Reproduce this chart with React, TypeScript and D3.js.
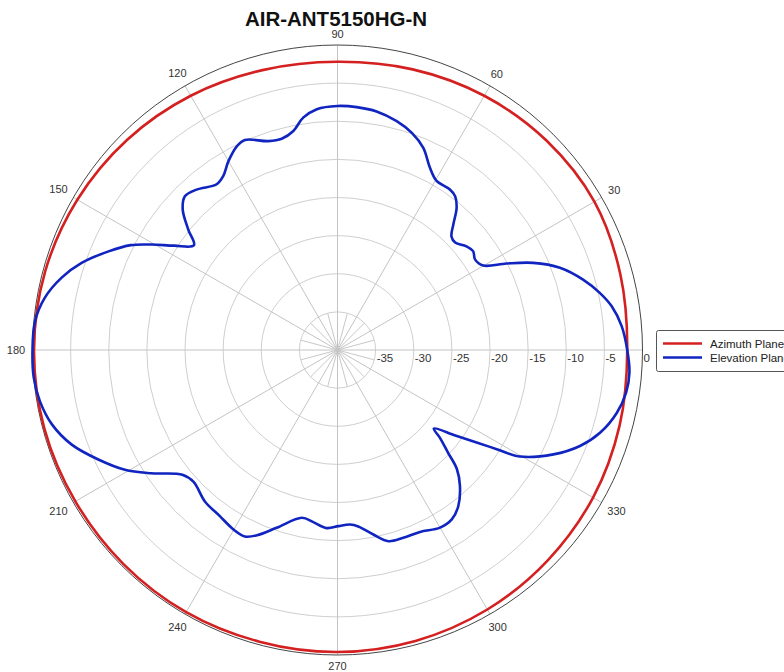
import React from 'react';
import * as d3 from 'd3';

const chartTitle = 'AIR-ANT5150HG-N';
const ringValues = [-35, -30, -25, -20, -15, -10, -5, 0];
const angleLabels = [30, 60, 90, 120, 150, 180, 210, 240, 270, 300, 330];
const seriesNames = ['Azimuth Plane', 'Elevation Plane'];

const azimuthAngles = [0, 15, 30, 45, 60, 75, 90, 105, 120, 135, 150, 165, 180, 195, 210, 225, 240, 255, 270, 285, 300, 315, 330, 345];
const azimuthDb = [-2.0, -1.6, -1.1, -1.2, -1.5, -1.9, -2.2, -2.0, -1.5, -1.0, -0.6, -0.3, -0.2, -0.2, -0.3, -0.3, -0.3, -0.4, -0.4, -0.5, -0.7, -1.0, -1.3, -1.7];

const elevationAngles = [
  0, 4.8, 9.1, 12.3, 16.0, 20.3, 24.0, 27.1, 30.1, 33.4, 36.0, 38.8, 42.4, 44.9, 47.3, 50.0, 52.6, 55.0, 59.6, 63.1,
  67.0, 71.1, 75.5, 80.7, 85.5, 90, 94.9, 98.4, 101.4, 104.8, 108.3, 113.8, 116.3, 120.0, 123.3, 126.1, 131.3, 134.8,
  137.8, 141.1, 143.9, 147.4, 150.4, 153.1, 156.7, 161.2, 165.3, 169.9, 174.6, 180, 185.2, 189.8, 194.6, 199.6, 204.6,
  209.4, 213.5, 218.8, 222.5, 228.8, 234.7, 239.9, 243.6, 246.5, 251.1, 258.0, 262.0, 266.5, 270.3, 274.1, 276.7,
  281.0, 284.9, 289.3, 294.4, 300.0, 304.0, 307.7, 312.0, 315.1, 317.1, 319.4, 320.8, 324.0, 326.4, 328.2, 329.7,
  334.2, 338.4, 342.5, 347.3, 351.6, 355.6
];
const elevationDb = [
  -2.0, -2.6, -3.6, -4.8, -6.5, -8.9, -11.9, -15.1, -17.9, -18.4, -18.0, -18.3, -19.1, -18.9, -17.6, -15.7, -14.6, -14.3, -14.3, -13.2,
  -11.2, -9.9, -9.0, -8.3, -8.05, -8.0, -8.3, -9.2, -10.7, -11.35, -11.15, -9.9, -10.2, -11.4, -12.7, -13.1, -12.0, -11.6,
  -12.6, -14.85, -16.7, -14.6, -12.0, -9.6, -7.3, -4.55, -2.6, -1.0, -0.15, 0, 0, -0.4, -1.3, -3.0, -5.5,
  -8.0, -10.7, -13.9, -14.4, -13.6, -13.3, -12.8, -12.7, -13.5, -15.35, -17.5, -17.2, -16.6, -16.9, -17.05, -16.7,
  -15.35, -14.05, -13.9, -13.8, -13.1, -13.2, -14.1, -16.0, -17.9, -20.2, -22.3, -23.7, -20.9, -18.1, -15.2, -12.3,
  -8.55, -5.8, -3.9, -2.46, -1.74, -1.6
];

const FONT = "Arial, 'Liberation Sans', sans-serif";

export default function App() {
  const W = 784, H = 672;
  const cx = 337.5, cy = 350, R = 305;
  const r = d3.scaleLinear().domain([-40, 0]).range([0, R]);
  const rad = (a: number) => (a * Math.PI) / 180;
  const pt = (a: number, db: number): [number, number] => [
    cx + r(db) * Math.cos(rad(a)),
    cy - r(db) * Math.sin(rad(a)),
  ];
  const line = d3.line<[number, number]>().curve(d3.curveCatmullRomClosed.alpha(0.5));
  const azPts = azimuthAngles.map((a, i) => pt(a, azimuthDb[i]));
  const elPts = elevationAngles.map((a, i) => pt(a, elevationDb[i]));

  const spokes30 = d3.range(0, 360, 30);
  const spokes15 = d3.range(15, 360, 30);

  return (
    <div style={{ position: 'absolute', left: 0, top: 0, width: W, height: H, background: '#fff' }}>
      <svg width={W} height={H} style={{ display: 'block' }} fontFamily={FONT}>
        <rect x={0} y={0} width={W} height={H} fill="#fff" />
        {/* inner spokes */}
        {spokes15.map((a) => {
          const [x, y] = pt(a, ringValues[0]);
          return <line key={'s15' + a} x1={cx} y1={cy} x2={x} y2={y} stroke="#c8c8c8" strokeWidth={1} />;
        })}
        {/* rings */}
        {ringValues.slice(0, -1).map((v) => (
          <circle key={'ring' + v} cx={cx} cy={cy} r={r(v)} fill="none" stroke="#cfcfcf" strokeWidth={1} />
        ))}
        {spokes30.map((a) => {
          const [x, y] = pt(a, 0);
          return <line key={'s30' + a} x1={cx} y1={cy} x2={x} y2={y} stroke="#c4c4c4" strokeWidth={1} />;
        })}
        <circle cx={cx} cy={cy} r={r(0)} fill="none" stroke="#444" strokeWidth={1} />
        {/* dB labels */}
        {ringValues.map((v) => (
          <text key={'lab' + v} x={cx + r(v) + 1} y={cy + 11.5} fontSize={11.5} fill="#333">
            {String(v)}
          </text>
        ))}
        {/* angle labels */}
        {angleLabels.map((a) => {
          const s = String(a);
          const w = s.length * 6.3;
          const h = 8;
          const d = R + 7 + Math.abs(Math.cos(rad(a))) * w / 2 + Math.abs(Math.sin(rad(a))) * h / 2;
          const x = cx + d * Math.cos(rad(a));
          const y = cy - d * Math.sin(rad(a));
          return (
            <text key={'ang' + a} x={x} y={y} dy="0.36em" textAnchor="middle" fontSize={11} fill="#333">
              {s}
            </text>
          );
        })}
        {/* series */}
        <path d={line(azPts) || ''} fill="none" stroke="#d42020" strokeWidth={2.6} strokeLinejoin="round" />
        <path d={line(elPts) || ''} fill="none" stroke="#1024c0" strokeWidth={2.6} strokeLinejoin="round" />
        {/* title */}
        <text x={336} y={25.5} textAnchor="middle" fontSize={20.5} fontWeight="bold" fill="#111">
          {chartTitle}
        </text>
        {/* legend */}
        <rect x={656.5} y={330.5} width={150} height={41} rx={2} fill="#fff" stroke="#555" strokeWidth={1} />
        <line x1={663} x2={702} y1={343.5} y2={343.5} stroke="#d42020" strokeWidth={2.6} />
        <line x1={663} x2={702} y1={357.5} y2={357.5} stroke="#1024c0" strokeWidth={2.6} />
        <text x={710} y={347.5} fontSize={11.5} fill="#222">{seriesNames[0]}</text>
        <text x={710} y={361.5} fontSize={11.5} fill="#222">{seriesNames[1]}</text>
      </svg>
    </div>
  );
}
